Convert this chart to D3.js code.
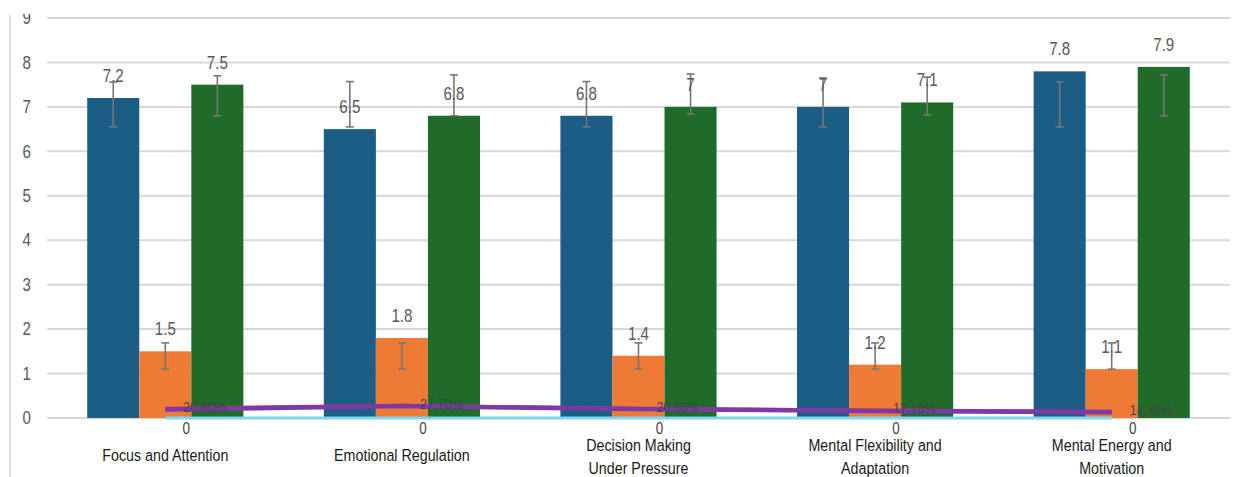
<!DOCTYPE html>
<html>
<head>
<meta charset="utf-8">
<script src="https://cdn.jsdelivr.net/npm/d3@7/dist/d3.min.js"></script>
<style>
  body { margin: 0; background: #fff; }
  text { font-family: "Liberation Sans", Arial, sans-serif; }
</style>
</head>
<body>
<div id="chart"></div>
<script>
// chart data
var categories = [
  ["Focus and Attention"],
  ["Emotional Regulation"],
  ["Decision Making", "Under Pressure"],
  ["Mental Flexibility and", "Adaptation"],
  ["Mental Energy and", "Motivation"]
];
var seriesNames = ["Before", "Change", "After"];
var beforeValues = [7.2, 6.5, 6.8, 7, 7.8];
var changeValues = [1.5, 1.8, 1.4, 1.2, 1.1];
var afterValues = [7.5, 6.8, 7, 7.1, 7.9];
var beforeErr = [[6.55, 7.56], [6.55, 7.57], [6.55, 7.57], [6.55, 7.65], [6.55, 7.56]];
var changeErr = [[1.1, 1.69], [1.1, 1.69], [1.1, 1.69], [1.1, 1.69], [1.1, 1.69]];
var afterErr = [[6.8, 7.7], [6.8, 7.72], [6.84, 7.74], [6.82, 7.67], [6.8, 7.72]];
var percentValues = [0.208, 0.277, 0.206, 0.171, 0.141];
var percentLabels = ["20.80%", "27.70%", "20.60%", "17.10%", "14.10%"];
var purpleValues = [0.19, 0.27, 0.2, 0.16, 0.13];
var zeroValues = [0, 0, 0, 0, 0];
var yTicks = [0, 1, 2, 3, 4, 5, 6, 7, 8, 9];

var width = 1242, height = 477;
var colors = ["#1b5d84", "#ee7a35", "#1e6b2a"];
var narrow = 0.84; // reference font is condensed

var svg = d3.select("#chart").append("svg")
  .attr("width", width)
  .attr("height", height);

// helper for condensed text
function place(sel, fx, fy) {
  return sel.attr("transform", function(d, i) {
    return "translate(" + fx(d, i) + "," + fy(d, i) + ") scale(" + narrow + ",1)";
  });
}

// scales
var x0 = d3.scaleBand()
  .domain(d3.range(categories.length))
  .range([47, 1230])
  .paddingInner(0.34)
  .paddingOuter(0.17);

var x1 = d3.scaleBand()
  .domain(seriesNames)
  .range([0, x0.bandwidth()]);

var y = d3.scaleLinear()
  .domain([0, 9])
  .range([418, 18]);

// left border
svg.append("line")
  .attr("x1", 10).attr("x2", 10)
  .attr("y1", 15).attr("y2", height)
  .attr("stroke", "#d4d4d4")
  .attr("stroke-width", 1.5);

// grid lines
svg.selectAll(".grid")
  .data(yTicks)
  .enter()
  .append("line")
  .attr("class", "grid")
  .attr("x1", 47)
  .attr("x2", 1230)
  .attr("y1", function(d) { return y(d); })
  .attr("y2", function(d) { return y(d); })
  .attr("stroke", "#d9d9d9")
  .attr("stroke-width", 2);

// y axis labels
var yAxis = svg.append("g")
  .attr("transform", "translate(31,0)")
  .call(d3.axisLeft(y).tickValues(yTicks).tickSize(0).tickPadding(0));
yAxis.select(".domain").remove();
yAxis.selectAll("text")
  .attr("fill", "#595959")
  .attr("font-size", 18)
  .attr("font-family", "Liberation Sans, Arial, sans-serif")
  .attr("transform", "scale(" + narrow + ",1)");

// bars
var seriesData = [
  { name: "Before", values: beforeValues, err: beforeErr },
  { name: "Change", values: changeValues, err: changeErr },
  { name: "After", values: afterValues, err: afterErr }
];

seriesData.forEach(function(s, si) {
  var g = svg.append("g");
  g.selectAll("rect")
    .data(s.values)
    .enter()
    .append("rect")
    .attr("x", function(d, i) { return x0(i) + x1(s.name); })
    .attr("y", function(d) { return y(d); })
    .attr("width", x1.bandwidth())
    .attr("height", function(d) { return y(0) - y(d); })
    .attr("fill", colors[si]);

  // error bars
  var cx = function(i) { return x0(i) + x1(s.name) + x1.bandwidth() / 2; };
  var eb = g.selectAll(".err")
    .data(s.err)
    .enter()
    .append("g")
    .attr("stroke", "#777")
    .attr("stroke-width", 1.6);
  eb.append("line")
    .attr("x1", function(d, i) { return cx(i); })
    .attr("x2", function(d, i) { return cx(i); })
    .attr("y1", function(d) { return y(d[0]); })
    .attr("y2", function(d) { return y(d[1]); });
  eb.append("line")
    .attr("x1", function(d, i) { return cx(i) - 4; })
    .attr("x2", function(d, i) { return cx(i) + 4; })
    .attr("y1", function(d) { return y(d[0]); })
    .attr("y2", function(d) { return y(d[0]); });
  eb.append("line")
    .attr("x1", function(d, i) { return cx(i) - 4; })
    .attr("x2", function(d, i) { return cx(i) + 4; })
    .attr("y1", function(d) { return y(d[1]); })
    .attr("y2", function(d) { return y(d[1]); });

  // value labels
  place(g.selectAll(".val")
    .data(s.values)
    .enter()
    .append("text"),
    function(d, i) { return cx(i); },
    function(d) { return y(d) - 16; })
    .attr("text-anchor", "middle")
    .attr("font-size", 18)
    .attr("fill", "#595959")
    .text(function(d) { return d; });
});

// lines through the orange bars
var lineX = function(d, i) { return x0(i) + x1("Change") + x1.bandwidth() / 2; };

var lineDefs = [
  { values: zeroValues, color: "#7fd6f0", w: 3 },
  { values: percentValues, color: "#bf2f78", w: 4 },
  { values: purpleValues, color: "#7c3aa6", w: 4.5 }
];

lineDefs.forEach(function(l) {
  var line = d3.line()
    .x(lineX)
    .y(function(d) { return y(d); });
  svg.append("path")
    .datum(l.values)
    .attr("d", line)
    .attr("fill", "none")
    .attr("stroke", l.color)
    .attr("stroke-width", l.w);
});

// percent labels
place(svg.selectAll(".pct")
  .data(percentValues)
  .enter()
  .append("text"),
  function(d, i) { return lineX(d, i) + 18; },
  function(d) { return y(d) + 3; })
  .attr("font-size", 15)
  .attr("fill", "#444")
  .text(function(d, i) { return percentLabels[i]; });

// zero labels
place(svg.selectAll(".zero")
  .data(zeroValues)
  .enter()
  .append("text"),
  function(d, i) { return lineX(d, i) + 21; },
  function(d) { return y(d) + 16; })
  .attr("text-anchor", "middle")
  .attr("font-size", 16)
  .attr("fill", "#444")
  .text(function(d) { return d; });

// category labels
categories.forEach(function(lines, i) {
  var cx = x0(i) + x0.bandwidth() / 2;
  var t = svg.append("text")
    .attr("transform", "translate(" + cx + ",0) scale(" + narrow + ",1)")
    .attr("text-anchor", "middle")
    .attr("font-size", 17)
    .attr("fill", "#1a1a1a");
  lines.forEach(function(s, j) {
    t.append("tspan")
      .attr("x", 0)
      .attr("y", lines.length === 1 ? 461 : 451 + j * 23)
      .text(s);
  });
});

// top edge is cut off in the reference
svg.append("rect")
  .attr("x", 0).attr("y", 0)
  .attr("width", width).attr("height", 14)
  .attr("fill", "#fff");
</script>
</body>
</html>
